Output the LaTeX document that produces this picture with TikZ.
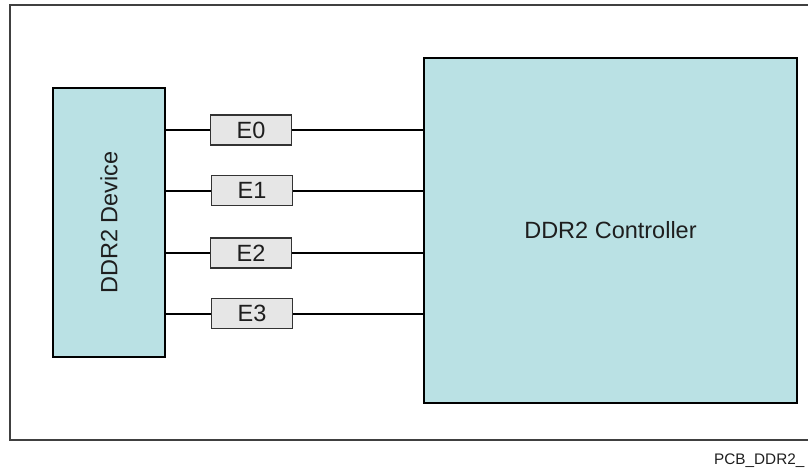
\documentclass[tikz,border=0pt]{standalone}
\usepackage{fontspec}
\setmainfont{Liberation Sans}
\definecolor{boxteal}{RGB}{186,225,228}
\definecolor{boxgray}{RGB}{230,230,230}
\definecolor{txt}{RGB}{30,30,30}
\begin{document}
\begin{tikzpicture}[x=1pt,y=-1pt,
  blk/.style={draw=black,line width=1.4pt,fill=boxteal,inner sep=0pt,text=txt,
    font=\fontsize{23.5}{28}\selectfont},
  ebox/.style={draw=black!80,line width=1.3pt,fill=boxgray,inner sep=0pt,
    minimum width=81pt,minimum height=30pt,text=txt,font=\fontsize{23.5}{28}\selectfont},
  wire/.style={draw=black,line width=2pt},
  frame/.style={draw=black!75,line width=1.5pt}]
\clip (0,0) rectangle (808,467);
\fill[white] (0,0) rectangle (808,467);
\draw[frame] (10,5) rectangle (830,440);
\node[blk,minimum width=112pt,minimum height=269pt] (dev) at (109,222.5)
  {\rotatebox{90}{DDR2 Device}};
\node[blk,minimum width=373pt,minimum height=345pt] (ctl) at (610.5,230.5) {DDR2 Controller};
\node[ebox] (e0) at (251,130) {E0};
\node[ebox] (e1) at (252,190.5) {E1};
\node[ebox] (e2) at (251,253) {E2};
\node[ebox] (e3) at (252,313.5) {E3};
\foreach \e in {e0,e1,e2,e3}{
  \draw[wire] (\e.west -| dev.east) -- (\e.west);
  \draw[wire] (\e.east) -- (\e.east -| ctl.west);
}
\node[anchor=base west,inner sep=0pt,text=txt,font=\fontsize{15.3}{18}\selectfont] (lbl) at (714,464) {PCB\_DDR2\_};
\end{tikzpicture}
\end{document}
